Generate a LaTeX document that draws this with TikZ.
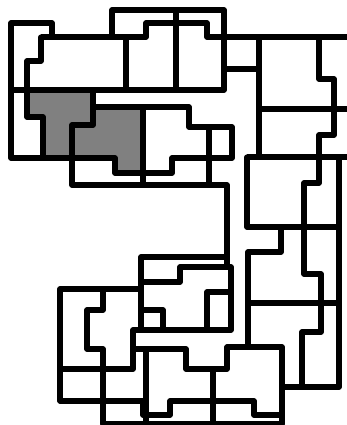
\documentclass[tikz,border=0pt]{standalone}
\begin{document}
\begin{tikzpicture}[x=1pt,y=-1pt,wall/.style={draw=black,line width=5.2pt,line join=round,line cap=round},edge/.style={draw=black,line width=5.2pt,line join=round,line cap=butt}]
\useasboundingbox (0,0) rectangle (347,425);
\fill[white] (0,0) rectangle (347,425);
% shaded rooms
\fill[gray] (27,90) -- (93,90) -- (93,125) -- (72,125) -- (72,158) -- (43,158) -- (43,117) -- (27,117) -- cycle;
\fill[gray] (93,107) -- (143,107) -- (143,173) -- (115,173) -- (115,158) -- (72,158) -- (72,125) -- (93,125) -- cycle;
% upper left
\draw[wall] (52,37) -- (52,23) -- (11,23) -- (11,158) -- (115,158) -- (115,173) -- (172,173) -- (172,158) -- (232,158) -- (232,127) -- (189,127) -- (189,107) -- (93,107);
\draw[edge] (41,37) -- (146,37) -- (146,23) -- (207,23) -- (207,37) -- (347,37);
\draw[wall] (41,37) -- (41,61) -- (27,61) -- (27,117) -- (43,117) -- (43,158);
\draw[wall] (11,90) -- (224,90) -- (224,10) -- (112,10) -- (112,37);
\draw[wall] (126,37) -- (126,90);
\draw[edge,line width=5.8pt] (176,10) -- (176,90);
\draw[wall] (93,90) -- (93,125) -- (72,125) -- (72,185) -- (227,185) -- (227,267);
\draw[wall] (143,107) -- (143,185);
\draw[wall] (209,127) -- (209,185);
% upper right
\draw[wall] (224,69) -- (259,69);
\draw[wall] (259,37) -- (259,157);
\draw[edge] (259,109) -- (347,109);
\draw[wall] (319,37) -- (319,79) -- (334,79) -- (334,135) -- (319,135) -- (319,183) -- (304,183) -- (304,274) -- (321,274) -- (321,332) -- (302,332) -- (302,387);
\draw[edge] (347,157) -- (247,157);
\draw[wall] (247,157) -- (247,227) -- (339,227);
\draw[wall] (339,157) -- (339,387) -- (282,387);
\draw[wall] (281,227) -- (281,252) -- (248,252) -- (248,347);
\draw[wall] (248,303) -- (339,303);
% lower middle
\draw[wall] (227,347) -- (282,347) -- (282,424);
\draw[wall] (227,347) -- (227,369) -- (186,369) -- (186,349) -- (133,349);
\draw[wall] (213,369) -- (213,424);
\draw[wall] (60,401) -- (143,401) -- (143,415) -- (170,415) -- (170,401) -- (254,401) -- (254,415) -- (282,415);
\draw[wall] (146,349) -- (146,424);
% lower cluster
\draw[wall] (227,257) -- (141,257) -- (141,330);
\draw[wall] (141,282) -- (180,282) -- (180,267) -- (231,267) -- (231,330) -- (133,330) -- (133,369) -- (60,369);
\draw[wall] (141,289) -- (60,289) -- (60,401);
\draw[wall] (103,289) -- (103,310) -- (87,310) -- (87,349) -- (103,349) -- (103,424) -- (282,424);
\draw[wall] (141,310) -- (163,310) -- (163,330);
\draw[wall] (207,330) -- (207,292) -- (231,292);
\end{tikzpicture}
\end{document}
